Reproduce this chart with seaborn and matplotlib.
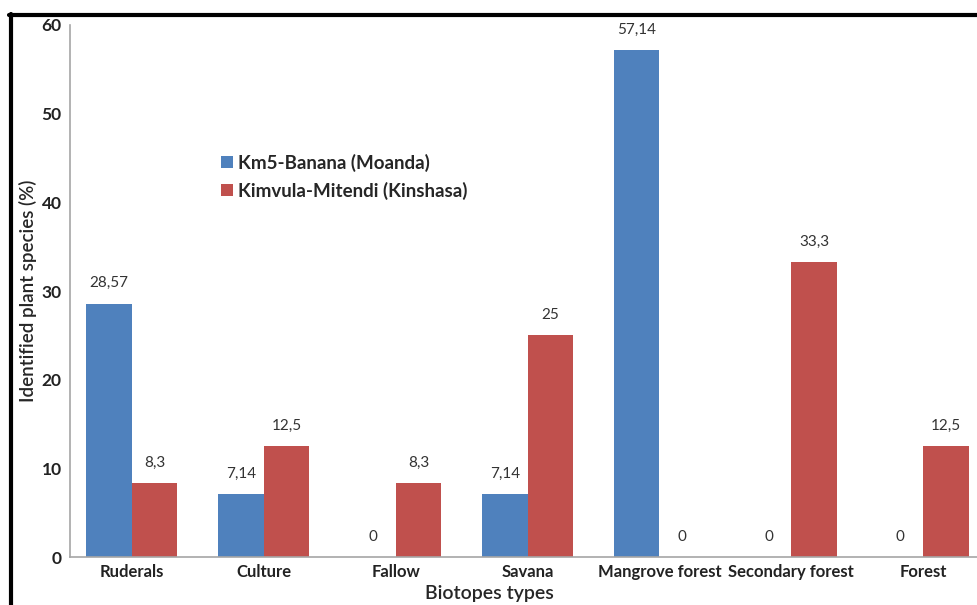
import numpy as np
import pandas as pd
import matplotlib.pyplot as plt
import seaborn as sns

# ── Data ──────────────────────────────────────────────────────────────────────
biotopes = ["Ruderals", "Culture", "Fallow", "Savana",
            "Mangrove forest", "Secondary forest", "Forest"]
moanda   = [28.57, 7.14, 0, 7.14, 57.14, 0, 0]
kinshasa = [8.3, 12.5, 8.3, 25, 0, 33.3, 12.5]
series   = ["Km5-Banana (Moanda)", "Kimvula-Mitendi (Kinshasa)"]
colors   = ["#4F81BD", "#C0504D"]

df = pd.DataFrame({
    "biotope": biotopes * 2,
    "value":   moanda + kinshasa,
    "site":    [series[0]] * len(biotopes) + [series[1]] * len(biotopes),
})

sns.set_style("white")
plt.rcParams["font.family"] = ["Lato", "DejaVu Sans"]

fig = plt.figure(figsize=(9.77, 6.05), dpi=100)
ax = fig.add_axes([0.0716, 0.0793, 0.93, 0.8794])

sns.barplot(data=df, x="biotope", y="value", hue="site", order=biotopes,
            hue_order=series, palette=colors, width=0.69, saturation=1,
            linewidth=0, ax=ax, legend=True)

# value labels with comma decimals
for cont in ax.containers:
    for bar in cont:
        h = bar.get_height()
        txt = f"{h:g}".replace(".", ",")
        ax.text(bar.get_x() + bar.get_width() / 2, h + 1.5, txt,
                ha="center", va="bottom", fontsize=11, color="#333333")

ax.set_ylim(0, 60)
ax.set_xlim(-0.47, 6.42)
ax.set_yticks(range(0, 61, 10))
ax.tick_params(axis="both", length=0)
ax.tick_params(axis="x", labelsize=12, pad=5)
ax.tick_params(axis="y", labelsize=12.5, pad=6)
for lab in ax.get_xticklabels() + ax.get_yticklabels():
    lab.set_fontweight("bold")
    lab.set_color("#222222")

ax.set_xlabel("Biotopes types", fontsize=14, fontweight="semibold")
ax.set_ylabel("Identified plant species (%)", fontsize=13.5,
              fontweight="semibold")
ax.xaxis.set_label_coords(0.462, -0.052)
ax.yaxis.set_label_coords(-0.036, 0.5)

for side in ["top", "right"]:
    ax.spines[side].set_visible(False)
for side in ["left", "bottom"]:
    ax.spines[side].set_color("#A6A6A6")
    ax.spines[side].set_linewidth(1.2)

leg = ax.legend(loc="upper left", bbox_to_anchor=(0.148, 0.79), frameon=False,
                fontsize=13.5, handlelength=0.6, handleheight=0.6,
                handletextpad=0.3, labelspacing=0.55, title=None)
for t in leg.get_texts():
    t.set_fontweight("bold")

# outer black frame (top and left edges)
fig.add_artist(plt.Line2D([0.009, 1.0], [0.975, 0.975], color="black",
                          lw=3, transform=fig.transFigure))
fig.add_artist(plt.Line2D([0.011, 0.011], [0.0, 0.977], color="black",
                          lw=3, transform=fig.transFigure))

fig.savefig("out.png", dpi=100)
